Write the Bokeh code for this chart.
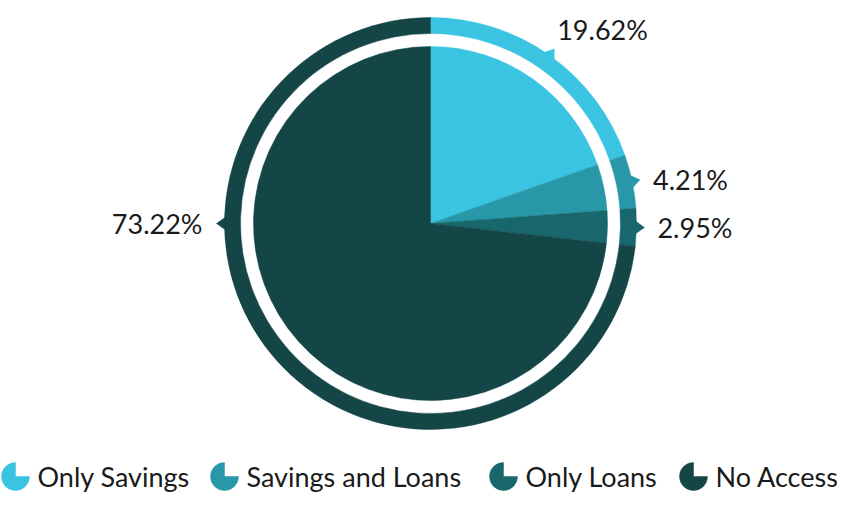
import math
from bokeh.plotting import figure
from bokeh.models import Range1d, ColumnDataSource
from bokeh.core.properties import value
from bokeh.embed import file_html
from bokeh.resources import INLINE

# ---- data ----
categories = ["Only Savings", "Savings and Loans", "Only Loans", "No Access"]
shares = [19.62, 4.21, 2.95, 73.22]
labels = ["19.62%", "4.21%", "2.95%", "73.22%"]
colors = ["#3bc4e2", "#2897a7", "#17676c", "#144547"]

# ---- layout (pixels) ----
W, H = 837, 496
def X(sx):
    return sx
def Y(sy):
    return H - sy

cx, cy = X(430), Y(223)
r_pie = 177
r_in, r_out = 190, 206
r_tip = 214
FONT = "Lato"
TXT = "#1a1a1a"
FS = "27px"

p = figure(width=W, height=H, output_backend="svg", toolbar_location=None,
           x_range=Range1d(0, W), y_range=Range1d(0, H), min_border=0)
p.axis.visible = False
p.grid.visible = False
p.outline_line_color = None
p.background_fill_color = "white"
p.border_fill_color = "white"

total = sum(shares)
starts, ends, mids = [], [], []
acc = 0.0
for s in shares:
    a0 = math.pi / 2 - 2 * math.pi * acc / total
    acc += s
    a1 = math.pi / 2 - 2 * math.pi * acc / total
    starts.append(a0)
    ends.append(a1)
    mids.append((a0 + a1) / 2)

src = ColumnDataSource(dict(start=starts, end=ends, color=colors))
p.wedge(x=cx, y=cy, radius=r_pie, start_angle="start", end_angle="end",
        direction="clock", fill_color="color", line_color="color", line_width=0.5, source=src)
p.annular_wedge(x=cx, y=cy, inner_radius=r_in, outer_radius=r_out,
                start_angle="start", end_angle="end", direction="clock",
                fill_color="color", line_color="color", line_width=0.5, source=src)

# label anchor angles: segment midpoints; the dominant slice's label sits on the left side
label_angles = list(mids)
label_angles[-1] = math.pi

half = 6.5 / r_out
for ang, col, lab in zip(label_angles, colors, labels):
    xs = [cx + (r_out - 1) * math.cos(ang - half), cx + r_tip * math.cos(ang),
          cx + (r_out - 1) * math.cos(ang + half)]
    ys = [cy + (r_out - 1) * math.sin(ang - half), cy + r_tip * math.sin(ang),
          cy + (r_out - 1) * math.sin(ang + half)]
    p.patch(xs, ys, fill_color=col, line_color=col, line_width=0.5)
    tx, ty = cx + r_tip * math.cos(ang), cy + r_tip * math.sin(ang)
    c = math.cos(ang)
    if c > 0.6:
        p.text(x=[tx + 13], y=[ty], text=[lab], text_align="left", text_baseline="middle",
               text_font=value(FONT), text_font_size=FS, text_color=TXT)
    elif c < -0.6:
        p.text(x=[tx - 14], y=[ty], text=[lab], text_align="right", text_baseline="middle",
               text_font=value(FONT), text_font_size=FS, text_color=TXT)
    else:
        p.text(x=[tx + 3], y=[ty + 19], text=[lab], text_align="left", text_baseline="middle",
               text_font=value(FONT), text_font_size=FS, text_color=TXT)

# ---- legend ----
icon_x = [15, 224, 503, 693]
leg_y = Y(476)
for ix, col, name in zip(icon_x, colors, categories):
    p.wedge(x=X(ix), y=leg_y, radius=14, start_angle=math.pi / 2, end_angle=0,
            direction="anticlock", fill_color=col, line_color=col, line_width=0.5)
    p.text(x=[X(ix) + 22], y=[leg_y], text=[name], text_align="left", text_baseline="middle",
           text_font=value(FONT), text_font_size=FS, text_color=TXT)

open("out.html", "w").write(file_html(p, INLINE))
